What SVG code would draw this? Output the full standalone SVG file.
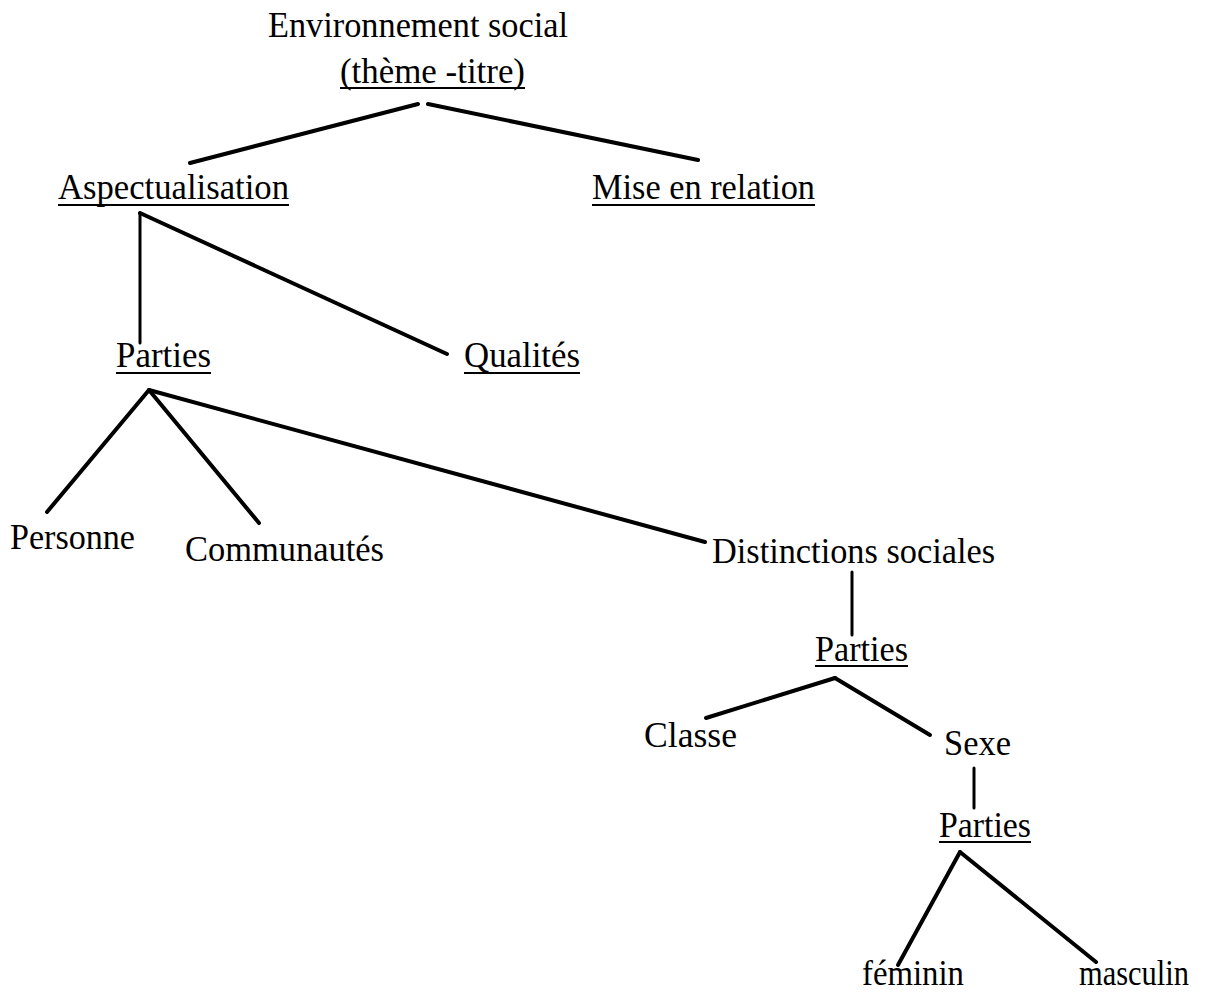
<svg xmlns="http://www.w3.org/2000/svg" width="1214" height="997" viewBox="0 0 1214 997">
<style>
text{font-family:"Liberation Serif","Times New Roman",serif;font-size:35px;fill:#000}
.c line{stroke:#000;stroke-width:4;stroke-linecap:round}
.c line.v{stroke-width:3}
.u{stroke:#000;stroke-width:2}
</style>
<rect width="1214" height="997" fill="#fff"/>
<g class="c" id="connectors">
<line x1="418" y1="104" x2="190" y2="163"/>
<line x1="428" y1="104" x2="698" y2="160"/>
<line class="v" x1="140" y1="213" x2="140" y2="343"/>
<line x1="140" y1="213" x2="447" y2="354"/>
<line x1="149" y1="390" x2="47" y2="512"/>
<line x1="149" y1="390" x2="259" y2="523"/>
<line x1="149" y1="390" x2="705" y2="542"/>
<line class="v" x1="852" y1="572" x2="852" y2="635"/>
<line x1="835" y1="678" x2="706" y2="718"/>
<line x1="835" y1="678" x2="930" y2="735"/>
<line class="v" x1="974" y1="768" x2="974" y2="808"/>
<line x1="960" y1="852" x2="898" y2="965"/>
<line x1="960" y1="852" x2="1096" y2="962"/>
</g>
<g id="n-env"><text x="268" y="37" textLength="300" lengthAdjust="spacingAndGlyphs">Environnement social</text></g>
<g id="n-theme"><text x="340" y="83" textLength="185" lengthAdjust="spacingAndGlyphs">(thème -titre)</text><line class="u" x1="340" y1="88" x2="525" y2="88"/></g>
<g id="n-aspect"><text x="58" y="199" textLength="231" lengthAdjust="spacingAndGlyphs">Aspectualisation</text><line class="u" x1="58" y1="205" x2="289" y2="205"/></g>
<g id="n-mise"><text x="592" y="199" textLength="223" lengthAdjust="spacingAndGlyphs">Mise en relation</text><line class="u" x1="592" y1="205" x2="815" y2="205"/></g>
<g id="n-parties1"><text x="116" y="367" textLength="95" lengthAdjust="spacingAndGlyphs">Parties</text><line class="u" x1="116" y1="373" x2="211" y2="373"/></g>
<g id="n-qualites"><text x="464" y="367" textLength="116" lengthAdjust="spacingAndGlyphs">Qualités</text><line class="u" x1="464" y1="373" x2="580" y2="373"/></g>
<g id="n-personne"><text x="10" y="549" textLength="125" lengthAdjust="spacingAndGlyphs">Personne</text></g>
<g id="n-communautes"><text x="185" y="561" textLength="199" lengthAdjust="spacingAndGlyphs">Communautés</text></g>
<g id="n-distinctions"><text x="712" y="563" textLength="283" lengthAdjust="spacingAndGlyphs">Distinctions sociales</text></g>
<g id="n-parties2"><text x="815" y="661" textLength="93" lengthAdjust="spacingAndGlyphs">Parties</text><line class="u" x1="815" y1="666" x2="908" y2="666"/></g>
<g id="n-classe"><text x="644" y="747" textLength="93" lengthAdjust="spacingAndGlyphs">Classe</text></g>
<g id="n-sexe"><text x="944" y="755" textLength="67" lengthAdjust="spacingAndGlyphs">Sexe</text></g>
<g id="n-parties3"><text x="939" y="837" textLength="92" lengthAdjust="spacingAndGlyphs">Parties</text><line class="u" x1="939" y1="842" x2="1031" y2="842"/></g>
<g id="n-feminin"><text x="862" y="985" textLength="102" lengthAdjust="spacingAndGlyphs">féminin</text></g>
<g id="n-masculin"><text x="1079" y="985" textLength="110" lengthAdjust="spacingAndGlyphs">masculin</text></g>
</svg>
